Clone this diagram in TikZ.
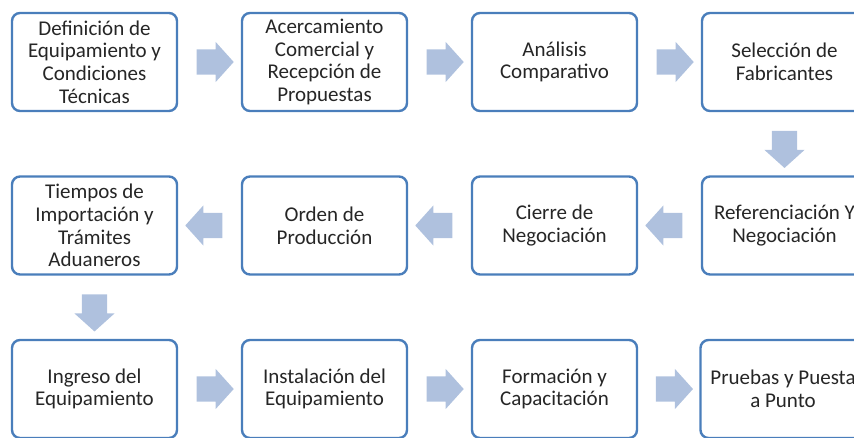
\documentclass[tikz,border=0pt]{standalone}
\usepackage{fontspec}
\setmainfont{Carlito}
\usetikzlibrary{shapes.arrows}
\definecolor{borde}{HTML}{4A7EBB}
\definecolor{flechaazul}{HTML}{AFC1DE}
\tikzset{
  paso/.style={rectangle,rounded corners=8pt,draw=borde,line width=2.4pt,fill=white,
    minimum width=165pt,minimum height=98pt,inner sep=2pt,align=center,text=black!85,
    font=\fontsize{21}{22.7}\selectfont},
  flecha/.style={single arrow,fill=flechaazul,draw=none,inner xsep=0pt,inner ysep=12.5pt,
    minimum height=37pt,single arrow head extend=7.5pt,single arrow tip angle=96},
}
\begin{document}
\begin{tikzpicture}[x=1pt,y=-1pt]
\useasboundingbox (0,0) rectangle (854,437);
\clip (0,0) rectangle (854,437);
% fila 1
\node (d1) [paso] at (94.5,62) {Definición de\\Equipamiento y\\Condiciones\\Técnicas};
\node (d2) [paso] at (324.5,62) {Acercamiento\\Comercial y\\Recepción de\\Propuestas};
\node (d3) [paso] at (554.5,62) {Análisis\\Comparativo};
\node (d4) [paso] at (784.5,62) {Selección de\\Fabricantes};
% fila 2
\node (d5) [paso] at (784.5,225.5) {Referenciación Y\\Negociación};
\node (d6) [paso] at (554.5,225.5) {Cierre de\\Negociación};
\node (d7) [paso] at (324.5,225.5) {Orden de\\Producción};
\node (d8) [paso] at (94.5,225.5) {Tiempos de\\Importación y\\Trámites\\Aduaneros};
% fila 3
\node (d9) [paso] at (94.5,389) {Ingreso del\\Equipamiento};
\node (d10) [paso] at (324.5,389) {Instalación del\\Equipamiento};
\node (d11) [paso] at (554.5,389) {Formación y\\Capacitación};
\node (d12) [paso] at (783,389) {Pruebas y Puesta\\a Punto};
%
\path (d1) -- node[flecha] {} (d2);
\path (d2) -- node[flecha] {} (d3);
\path (d3) -- node[flecha] {} (d4);
\path (d4) -- node[flecha,rotate=-90] {} (d5);
\path (d5) -- node[flecha,rotate=180] {} (d6);
\path (d6) -- node[flecha,rotate=180] {} (d7);
\path (d7) -- node[flecha,rotate=180] {} (d8);
\path (d8) -- node[flecha,rotate=-90] {} (d9);
\path (d9) -- node[flecha] {} (d10);
\path (d10) -- node[flecha] {} (d11);
\path (d11) -- node[flecha] {} (d12);
\end{tikzpicture}
\end{document}
